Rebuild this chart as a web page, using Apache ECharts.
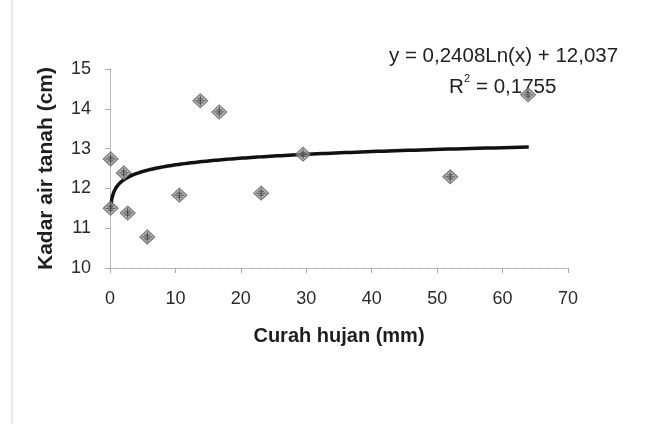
<!DOCTYPE html>
<html>
<head>
<meta charset="utf-8">
<script src="https://cdn.jsdelivr.net/npm/echarts@6/dist/echarts.min.js"></script>
<style>
  html, body { margin: 0; padding: 0; background: #ffffff; }
  #chart { width: 647px; height: 424px; }
</style>
</head>
<body>
<div id="chart"></div>
<script>
// Observed rainfall (mm) vs groundwater level (cm)
const curahHujan = [0.1, 0.1, 2.1, 2.7, 5.7, 10.6, 13.8, 16.7, 23.1, 29.5, 52.0, 63.9];
const kadarAir   = [12.74, 11.50, 12.39, 11.38, 10.78, 11.83, 14.20, 13.92, 11.88, 12.86, 12.29, 14.35];

// Logarithmic trend: y = a*ln(x) + b
const trendA = 0.2408;
const trendB = 12.037;
const trendRange = [0.107, 64];

const xTicks = [0, 10, 20, 30, 40, 50, 60, 70];
const yTicks = [10, 11, 12, 13, 14, 15];

const points = curahHujan.map((x, i) => [x, kadarAir[i]]);

const trend = [];
const steps = 300;
for (let i = 0; i <= steps; i++) {
  // geometric sampling: dense near zero where the curve bends sharply
  const t = i / steps;
  const x = trendRange[0] * Math.pow(trendRange[1] / trendRange[0], t);
  trend.push([x, trendA * Math.log(x) + trendB]);
}

const font = '"Liberation Sans", Arial, sans-serif';
const chart = echarts.init(document.getElementById('chart'), null, { renderer: 'canvas' });

chart.setOption({
  backgroundColor: '#ffffff',
  animation: false,
  grid: { left: 110, right: 79, top: 69, bottom: 156 },
  xAxis: {
    type: 'value',
    min: xTicks[0], max: xTicks[xTicks.length - 1], interval: 10,
    name: 'Curah hujan (mm)',
    nameLocation: 'middle', nameGap: 58,
    nameTextStyle: { fontFamily: font, fontSize: 20, color: '#1e1e1e', fontWeight: 'bold' },
    axisLine: { show: true, lineStyle: { color: '#aaa', width: 1, type: 'dotted' } },
    axisTick: { show: true, inside: false, length: 5, lineStyle: { color: '#aaa' } },
    axisLabel: { fontFamily: font, fontSize: 18, color: '#2a2a2a', margin: 22 },
    splitLine: { show: false }
  },
  yAxis: {
    type: 'value',
    min: yTicks[0], max: yTicks[yTicks.length - 1], interval: 1,
    name: 'Kadar air tanah (cm)',
    nameLocation: 'middle', nameGap: 53, nameRotate: 90,
    nameTextStyle: { fontFamily: font, fontSize: 21, color: '#1e1e1e', fontWeight: 'bold' },
    axisLine: { show: true, lineStyle: { color: '#aaa', width: 1, type: 'dotted' } },
    axisTick: { show: true, inside: false, length: 5, lineStyle: { color: '#aaa' } },
    axisLabel: { fontFamily: font, fontSize: 18, color: '#2a2a2a', margin: 19 },
    splitLine: { show: false }
  },
  series: [
    {
      type: 'line',
      data: trend,
      showSymbol: false,
      smooth: false,
      lineStyle: { color: '#111', width: 3.5 },
      z: 2
    },
    {
      type: 'scatter',
      data: points,
      symbol: 'diamond',
      symbolSize: [15, 14],
      itemStyle: { color: '#a8a8a8', borderColor: '#555', borderWidth: 1 },
      z: 3
    },
    {
      // cross hatch inside each marker
      type: 'scatter',
      data: points,
      symbol: 'path://M5,0 L5,10 M0,5 L10,5 M2,3 L8,3 M2,7 L8,7',
      symbolSize: 10,
      itemStyle: { color: 'none', borderColor: '#333', borderWidth: 1 },
      silent: true,
      z: 4
    }
  ],
  graphic: [
    {
      type: 'text', left: 389, top: 46,
      style: { text: 'y = 0,2408Ln(x) + 12,037', font: '20.5px ' + font, fill: '#222' }
    },
    {
      type: 'text', left: 449, top: 77,
      style: { text: 'R', font: '20.5px ' + font, fill: '#222' }
    },
    {
      type: 'text', left: 464, top: 73,
      style: { text: '2', font: '11px ' + font, fill: '#222' }
    },
    {
      type: 'text', left: 476, top: 77,
      style: { text: '= 0,1755', font: '20.5px ' + font, fill: '#222' }
    },
    {
      type: 'line', shape: { x1: 12, y1: 0, x2: 12, y2: 424 },
      style: { stroke: '#cfcfcf', lineWidth: 1 }
    }
  ]
});
</script>
</body>
</html>
